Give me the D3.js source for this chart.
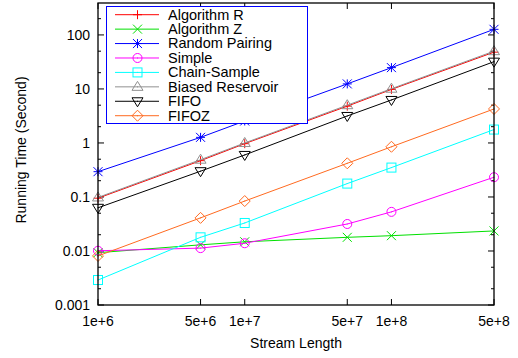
<!DOCTYPE html>
<html>
<head>
<meta charset="utf-8">
<script src="https://cdn.jsdelivr.net/npm/d3@7"></script>
<style>
  body { margin: 0; background: #fff; }
  text { font-family: "Liberation Sans", Arial, sans-serif; }
</style>
</head>
<body>
<div id="chart"></div>
<script>
// stream lengths on the x axis
var streamLengths = [1e6, 5e6, 1e7, 5e7, 1e8, 5e8];
var xTickLabels = ["1e+6", "5e+6", "1e+7", "5e+7", "1e+8", "5e+8"];
var yTicks = [0.001, 0.01, 0.1, 1, 10, 100];
var yTickLabels = ["0.001", "0.01", "0.1", "1", "10", "100"];

// running times (seconds)
var algorithmR      = [0.095, 0.47, 0.97, 4.8, 9.8, 48];
var algorithmZ      = [0.0093, 0.013, 0.0148, 0.0179, 0.0192, 0.0235];
var randomPairing   = [0.294, 1.27, 2.55, 12.4, 24.8, 127];
var simple          = [0.0101, 0.0113, 0.0139, 0.0316, 0.053, 0.232];
var chainSample     = [0.0029, 0.0179, 0.033, 0.177, 0.35, 1.77];
var biasedReservoir = [0.098, 0.49, 1.0, 5.0, 10.1, 50];
var fifo            = [0.063, 0.30, 0.60, 3.16, 6.25, 32];
var fifoz           = [0.0081, 0.041, 0.084, 0.42, 0.85, 4.26];

var seriesNames = ["Algorithm R", "Algorithm Z", "Random Pairing", "Simple",
  "Chain-Sample", "Biased Reservoir", "FIFO", "FIFOZ"];
var seriesValues = [algorithmR, algorithmZ, randomPairing, simple,
  chainSample, biasedReservoir, fifo, fifoz];
var seriesColors = ["#ff0000", "#00e000", "#0000ff", "#ff00ff",
  "#00ffff", "#909090", "#000000", "#ff6a20"];
var seriesMarks = ["plus", "cross", "star", "circle", "square", "triangle", "down", "diamond"];

var width = 518, height = 358;
var margin = {top: 3, right: 24, bottom: 53, left: 98};

var svg = d3.select("#chart").append("svg")
  .attr("width", width)
  .attr("height", height);

var x = d3.scaleLog()
  .domain([1e6, 5e8])
  .range([margin.left, width - margin.right]);

var y = d3.scaleLog()
  .domain([0.001, 390])
  .range([height - margin.bottom, margin.top]);

var x0 = x.range()[0], x1 = x.range()[1];
var y0 = y.range()[0], y1 = y.range()[1];

// minor y ticks at 2 and 5 of each decade
var yMinor = [];
yTicks.concat([1000]).forEach(function (t) {
  [2, 5].forEach(function (m) {
    var v = t * m;
    if (v <= y.domain()[1]) yMinor.push(v);
  });
});

var axes = svg.append("g").attr("stroke", "#000").attr("stroke-width", 1);

// major + minor y ticks, left and right, pointing inwards
yTicks.forEach(function (t) {
  axes.append("line").attr("x1", x0).attr("x2", x0 + 6)
    .attr("y1", y(t)).attr("y2", y(t));
  axes.append("line").attr("x1", x1).attr("x2", x1 - 6)
    .attr("y1", y(t)).attr("y2", y(t));
});
yMinor.forEach(function (t) {
  axes.append("line").attr("x1", x0).attr("x2", x0 + 3)
    .attr("y1", y(t)).attr("y2", y(t));
  axes.append("line").attr("x1", x1).attr("x2", x1 - 3)
    .attr("y1", y(t)).attr("y2", y(t));
});
// x ticks, bottom and top
streamLengths.forEach(function (t) {
  axes.append("line").attr("x1", x(t)).attr("x2", x(t))
    .attr("y1", y0).attr("y2", y0 - 6);
  axes.append("line").attr("x1", x(t)).attr("x2", x(t))
    .attr("y1", y1).attr("y2", y1 + 6);
});

// tick labels
svg.selectAll(".ylab")
  .data(yTicks)
  .enter().append("text")
  .attr("x", x0 - 8)
  .attr("y", d => y(d))
  .attr("dy", "0.35em")
  .attr("text-anchor", "end")
  .style("font-size", "14px")
  .text((d, i) => yTickLabels[i]);

svg.selectAll(".xlab")
  .data(streamLengths)
  .enter().append("text")
  .attr("x", d => x(d))
  .attr("y", y0 + 21)
  .attr("text-anchor", "middle")
  .style("font-size", "14px")
  .text((d, i) => xTickLabels[i]);

// axis titles
svg.append("text")
  .attr("x", (x0 + x1) / 2)
  .attr("y", 348)
  .attr("text-anchor", "middle")
  .style("font-size", "14px")
  .text("Stream Length");

svg.append("text")
  .attr("transform", "translate(26," + ((y0 + y1) / 2 - 4) + ") rotate(-90)")
  .attr("text-anchor", "middle")
  .style("font-size", "14px")
  .text("Running Time (Second)");

// marker drawing
function drawMark(g, kind, cx, cy, color) {
  var s = 4.5;
  var m = g.append("g").attr("transform", "translate(" + cx + "," + cy + ")")
    .attr("stroke", color).attr("fill", "none").attr("stroke-width", 1);
  if (kind === "plus" || kind === "star") {
    m.append("line").attr("x1", -s).attr("x2", s).attr("y1", 0).attr("y2", 0);
    m.append("line").attr("x1", 0).attr("x2", 0).attr("y1", -s).attr("y2", s);
  }
  if (kind === "cross" || kind === "star") {
    m.append("line").attr("x1", -s).attr("x2", s).attr("y1", -s).attr("y2", s);
    m.append("line").attr("x1", -s).attr("x2", s).attr("y1", s).attr("y2", -s);
  }
  if (kind === "circle") {
    m.append("circle").attr("r", s);
  }
  if (kind === "square") {
    m.append("rect").attr("x", -s).attr("y", -s).attr("width", 2 * s).attr("height", 2 * s);
  }
  if (kind === "triangle") {
    m.append("path").attr("d", "M0," + (-s - 1) + "L" + (s + 1) + "," + (s - 1) + "L" + (-s - 1) + "," + (s - 1) + "Z");
  }
  if (kind === "down") {
    m.append("path").attr("d", "M0," + (s + 1) + "L" + (s + 1) + "," + (-s + 1) + "L" + (-s - 1) + "," + (-s + 1) + "Z");
  }
  if (kind === "diamond") {
    m.append("path").attr("d", "M0," + (-s - 1) + "L" + (s + 1) + ",0L0," + (s + 1) + "L" + (-s - 1) + ",0Z");
  }
  if (["circle", "square", "triangle", "down", "diamond"].indexOf(kind) >= 0) {
    m.append("rect").attr("x", -0.5).attr("y", -0.5).attr("width", 1).attr("height", 1)
      .attr("fill", color).attr("stroke", "none");
  }
}

var line = d3.line()
  .x((d, i) => x(streamLengths[i]))
  .y(d => y(d));

var plot = svg.append("g");
seriesValues.forEach(function (vals, k) {
  var g = plot.append("g");
  g.append("path")
    .attr("d", line(vals))
    .attr("fill", "none")
    .attr("stroke", seriesColors[k])
    .attr("stroke-width", 1);
  vals.forEach(function (v, i) {
    drawMark(g, seriesMarks[k], x(streamLengths[i]), y(v), seriesColors[k]);
  });
});

// legend
var legend = svg.append("g");
legend.append("rect")
  .attr("x", 106.5).attr("y", 6.5)
  .attr("width", 201).attr("height", 117)
  .attr("fill", "#fff")
  .attr("stroke", "#0000ff")
  .attr("stroke-width", 1);

seriesNames.forEach(function (name, k) {
  var ly = 14.7 + k * 14.43;
  legend.append("line")
    .attr("x1", 115).attr("x2", 159)
    .attr("y1", ly).attr("y2", ly)
    .attr("stroke", seriesColors[k]).attr("stroke-width", 1);
  drawMark(legend, seriesMarks[k], 137.5, ly, seriesColors[k]);
  legend.append("text")
    .attr("x", 168)
    .attr("y", ly)
    .attr("dy", "0.34em")
    .style("font-size", "14.5px")
    .text(name);
});

// frame
svg.append("rect")
  .attr("x", x0).attr("y", y1)
  .attr("width", x1 - x0).attr("height", y0 - y1)
  .attr("fill", "none")
  .attr("stroke", "#000")
  .attr("stroke-width", 1.3);
</script>
</body>
</html>
